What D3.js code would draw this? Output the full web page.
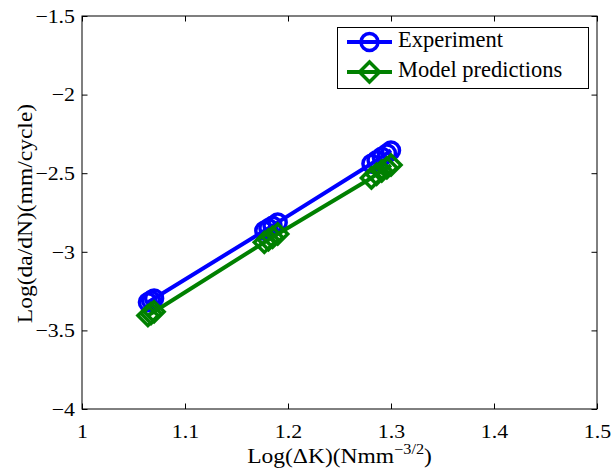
<!DOCTYPE html>
<html>
<head>
<meta charset="utf-8">
<script src="https://cdn.jsdelivr.net/npm/d3@7"></script>
<style>
  html, body { margin: 0; padding: 0; background: #fff; }
  svg { display: block; }
  text { font-family: "Liberation Serif", "Times New Roman", serif; fill: #000; }
</style>
</head>
<body>
<svg id="chart" width="612" height="475"></svg>
<script>
// Crack growth rate vs. stress intensity factor range (log-log values)
const deltaK = [1.064, 1.067, 1.070, 1.177, 1.181, 1.185, 1.190, 1.281, 1.286, 1.291, 1.296, 1.300];
const experiment = [-3.321, -3.309, -3.297, -2.866, -2.850, -2.834, -2.813, -2.440, -2.418, -2.396, -2.374, -2.355];
const modelPredictions = [-3.406, -3.393, -3.381, -2.940, -2.924, -2.907, -2.887, -2.530, -2.507, -2.486, -2.466, -2.448];
const xTicks = [1, 1.1, 1.2, 1.3, 1.4, 1.5];
const yTicks = [-4, -3.5, -3, -2.5, -2, -1.5];
const seriesNames = ["Experiment", "Model predictions"];

const W = 612, H = 475;
const plot = { left: 82, right: 597, top: 16, bottom: 409 };
const tickLen = 5.5;
const tickStretch = 1.15;
const labelStretch = 1.12;

const svg = d3.select("#chart");
svg.append("rect").attr("width", W).attr("height", H).attr("fill", "#fff");

const x = d3.scaleLinear().domain([1, 1.5]).range([plot.left, plot.right]);
const y = d3.scaleLinear().domain([-4, -1.5]).range([plot.bottom, plot.top]);
const fmt = d3.format("");

// Box around the axes
svg.append("rect")
  .attr("x", plot.left).attr("y", plot.top)
  .attr("width", plot.right - plot.left).attr("height", plot.bottom - plot.top)
  .attr("fill", "none").attr("stroke", "#000").attr("stroke-width", 1);

function styleAxis(g) {
  g.select(".domain").remove();
  g.selectAll(".tick line").attr("stroke", "#000").attr("stroke-width", 1);
}

// Bottom axis with labels, inward ticks
const gx = svg.append("g")
  .attr("transform", `translate(0,${plot.bottom})`)
  .call(d3.axisBottom(x).tickValues(xTicks).tickFormat(fmt).tickSizeInner(-tickLen).tickSizeOuter(0))
  .call(styleAxis);
gx.selectAll(".tick text")
  .attr("y", 29).attr("dy", 0)
  .attr("font-size", 19)
  .attr("font-family", "Liberation Serif, serif")
  .attr("transform", `scale(${tickStretch},1)`);

// Left axis with labels
const gy = svg.append("g")
  .attr("transform", `translate(${plot.left},0)`)
  .call(d3.axisLeft(y).tickValues(yTicks).tickFormat(fmt).tickSizeInner(-tickLen).tickSizeOuter(0))
  .call(styleAxis);
gy.selectAll(".tick text")
  .attr("x", -7 / tickStretch).attr("dy", "0.33em")
  .attr("font-size", 19)
  .attr("font-family", "Liberation Serif, serif")
  .attr("text-anchor", "end")
  .attr("transform", `scale(${tickStretch},1)`);

// Mirrored ticks on top and right
svg.append("g")
  .attr("transform", `translate(0,${plot.top})`)
  .call(d3.axisTop(x).tickValues(xTicks).tickFormat("").tickSizeInner(-tickLen).tickSizeOuter(0))
  .call(styleAxis);
svg.append("g")
  .attr("transform", `translate(${plot.right},0)`)
  .call(d3.axisRight(y).tickValues(yTicks).tickFormat("").tickSizeInner(-tickLen).tickSizeOuter(0))
  .call(styleAxis);

// Axis titles
const xt = svg.append("g")
  .attr("transform", `translate(${(plot.left + plot.right) / 2},463) scale(${labelStretch},1)`)
  .append("text")
  .attr("text-anchor", "middle")
  .attr("font-size", 21);
xt.append("tspan").text("Log(\u0394K)(Nmm");
xt.append("tspan").attr("font-size", 14.5).attr("dy", -9).text("\u22123/2");
xt.append("tspan").attr("dy", 9).text(")");

svg.append("g")
  .attr("transform", `translate(32,${(plot.top + plot.bottom) / 2 + 1}) rotate(-90) scale(${labelStretch},1)`)
  .append("text")
  .attr("text-anchor", "middle")
  .attr("font-size", 21)
  .text("Log(da/dN)(mm/cycle)");

// Series
const series = [
  { name: seriesNames[0], values: experiment, color: "#0000ff", marker: "circle" },
  { name: seriesNames[1], values: modelPredictions, color: "#008000", marker: "diamond" }
];

const line = d3.line().x(d => x(d[0])).y(d => y(d[1]));
const circleR = 8.5, diamondH = 10, markerStroke = 3.5;

function drawMarker(g, kind, cx, cy, color) {
  if (kind === "circle") {
    g.append("circle").attr("cx", cx).attr("cy", cy).attr("r", circleR)
      .attr("fill", "none").attr("stroke", color).attr("stroke-width", markerStroke);
  } else {
    g.append("path")
      .attr("d", `M${cx},${cy - diamondH}L${cx + diamondH},${cy}L${cx},${cy + diamondH}L${cx - diamondH},${cy}Z`)
      .attr("fill", "none").attr("stroke", color).attr("stroke-width", markerStroke)
      .attr("stroke-linejoin", "miter");
  }
}

series.forEach(s => {
  const pts = deltaK.map((k, i) => [k, s.values[i]]);
  const g = svg.append("g");
  g.append("path").attr("d", line(pts))
    .attr("fill", "none").attr("stroke", s.color).attr("stroke-width", 4)
    .attr("stroke-linejoin", "round");
  pts.forEach(p => drawMarker(g, s.marker, x(p[0]), y(p[1]), s.color));
});

// Legend
const legend = svg.append("g");
legend.append("rect")
  .attr("x", 337.5).attr("y", 27.5).attr("width", 251).attr("height", 61)
  .attr("fill", "#fff").attr("stroke", "#000").attr("stroke-width", 1);
series.forEach((s, i) => {
  const ly = 42 + i * 30;
  legend.append("line").attr("x1", 347).attr("x2", 392).attr("y1", ly).attr("y2", ly)
    .attr("stroke", s.color).attr("stroke-width", 4);
  drawMarker(legend, s.marker, 369.5, ly, s.color);
  legend.append("text")
    .attr("x", 398).attr("y", ly + 5)
    .attr("font-size", 22.5)
    .text(s.name);
});
</script>
</body>
</html>
